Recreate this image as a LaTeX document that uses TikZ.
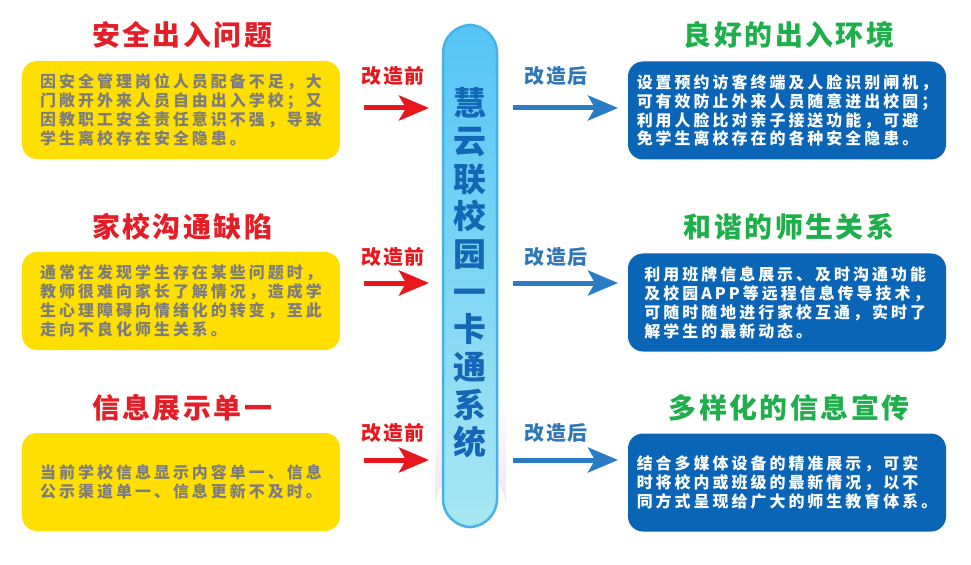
\documentclass[tikz,border=0pt]{standalone}
\usepackage{fontspec}
\newfontfamily\cjk{Noto Sans CJK SC}
\usetikzlibrary{arrows.meta}
\definecolor{ttlred}{HTML}{E41E26}
\definecolor{ttlgreen}{HTML}{1EAE4A}
\definecolor{boxyellow}{HTML}{FFDF00}
\definecolor{boxblue}{HTML}{0B65B7}
\definecolor{bodygrey}{HTML}{7D7D7D}
\definecolor{arrred}{HTML}{E8171D}
\definecolor{arrblue}{HTML}{2A7CC4}
\definecolor{lblblue}{HTML}{2F77B8}
\definecolor{pilltop}{HTML}{55C4F6}
\definecolor{pillbot}{HTML}{A8E8F2}
\definecolor{pilledge}{HTML}{45B2EC}
\definecolor{pilltext}{HTML}{1466B6}
\definecolor{glow}{HTML}{F2E2F7}
\begin{document}
\begin{tikzpicture}[x=1bp,y=-1bp,
  ttl/.style={font=\cjk\bfseries\fontsize{28}{30}\selectfont\addfontfeature{LetterSpace=9}},
  redttl/.style={ttl,text=ttlred},
  greenttl/.style={ttl,text=ttlgreen},
  bodybox/.style={rounded corners=15bp,minimum width=318bp,minimum height=98bp,inner sep=0pt,align=left,
    font=\cjk\bfseries\fontsize{16}{19}\selectfont\addfontfeature{LetterSpace=19}},
  ybox/.style={bodybox,fill=boxyellow,text=bodygrey},
  bbox/.style={bodybox,fill=boxblue,text=white},
  lbl/.style={font=\cjk\bfseries\fontsize{20}{22}\selectfont\addfontfeature{LetterSpace=8}},
  beforelbl/.style={lbl,text=arrred},
  afterlbl/.style={lbl,text=lblblue},
  arr/.style={line width=5bp,-{Stealth[length=30bp,width=25bp,inset=7bp]}},
  redarr/.style={arr,draw=arrred},
  bluearr/.style={arr,draw=arrblue}]
\useasboundingbox[fill=white] (0,0) rectangle (971,565);

% central pillar
\shade[top color=white,bottom color=glow]
  (435,400) -- (435,506) arc[start angle=180,end angle=360,x radius=35.5bp,y radius=-35bp] -- (506,400) -- cycle;
\shade[top color=pilltop,bottom color=pillbot,rounded corners=28bp,draw=pilledge,line width=2.5bp]
  (443,25) rectangle (497,527);
\node[inner sep=0pt,align=center,text=pilltext,
  font=\cjk\bfseries\fontsize{33}{37.8}\selectfont] (pillar) at (470,273)
  {慧\\云\\联\\校\\园\\一\\卡\\通\\系\\统};

% titles
\node[redttl] (t1) at (182,35) {安全出入问题};
\node[redttl] (t2) at (182,227) {家校沟通缺陷};
\node[redttl] (t3) at (182,408) {信息展示单一};
\node[greenttl] (g1) at (789,35) {良好的出入环境};
\node[greenttl] (g2) at (789,227) {和谐的师生关系};
\node[greenttl] (g3) at (789,408) {多样化的信息宣传};

% left boxes
\node[ybox] (l1) at (181,110) {因安全管理岗位人员配备不足，大\\门敞开外来人员自由出入学校；又\\因教职工安全责任意识不强，导致\\学生离校存在安全隐患。};
\node[ybox] (l2) at (181,301) {通常在发现学生存在某些问题时，\\教师很难向家长了解情况，造成学\\生心理障碍向情绪化的转变，至此\\走向不良化师生关系。};
\node[ybox] (l3) at (181,482) {当前学校信息显示内容单一、信息\\公示渠道单一、信息更新不及时。};

% right boxes
\node[bbox] (r1) at (787,110.5) {设置预约访客终端及人脸识别闸机，\\可有效防止外来人员随意进出校园；\\利用人脸比对亲子接送功能，可避\\免学生离校存在的各种安全隐患。};
\node[bbox] (r2) at (787,302.5) {利用班牌信息展示、及时沟通功能\\及校园APP等远程信息传导技术，\\可随时随地进行家校互通，实时了\\解学生的最新动态。};
\node[bbox] (r3) at (787,482.5) {结合多媒体设备的精准展示，可实\\时将校内或班级的最新情况，以不\\同方式呈现给广大的师生教育体系。};

% labels
\node[beforelbl] (b1) at (393,76) {改造前};
\node[beforelbl] (b2) at (393,257) {改造前};
\node[beforelbl] (b3) at (393,433) {改造前};
\node[afterlbl] (a1) at (556,76) {改造后};
\node[afterlbl] (a2) at (556,257) {改造后};
\node[afterlbl] (a3) at (556,433) {改造后};

% arrow ends
\coordinate (ls1) at (364,108); \coordinate (le1) at (429,108);
\coordinate (ls2) at (364,283); \coordinate (le2) at (429,283);
\coordinate (ls3) at (364,460); \coordinate (le3) at (429,460);
\coordinate (rs1) at (513,108); \coordinate (re1) at (618,108);
\coordinate (rs2) at (513,283); \coordinate (re2) at (618,283);
\coordinate (rs3) at (513,460); \coordinate (re3) at (618,460);
\draw[redarr] (ls1) -- (le1);
\draw[redarr] (ls2) -- (le2);
\draw[redarr] (ls3) -- (le3);
\draw[bluearr] (rs1) -- (re1);
\draw[bluearr] (rs2) -- (re2);
\draw[bluearr] (rs3) -- (re3);
\end{tikzpicture}
\end{document}
